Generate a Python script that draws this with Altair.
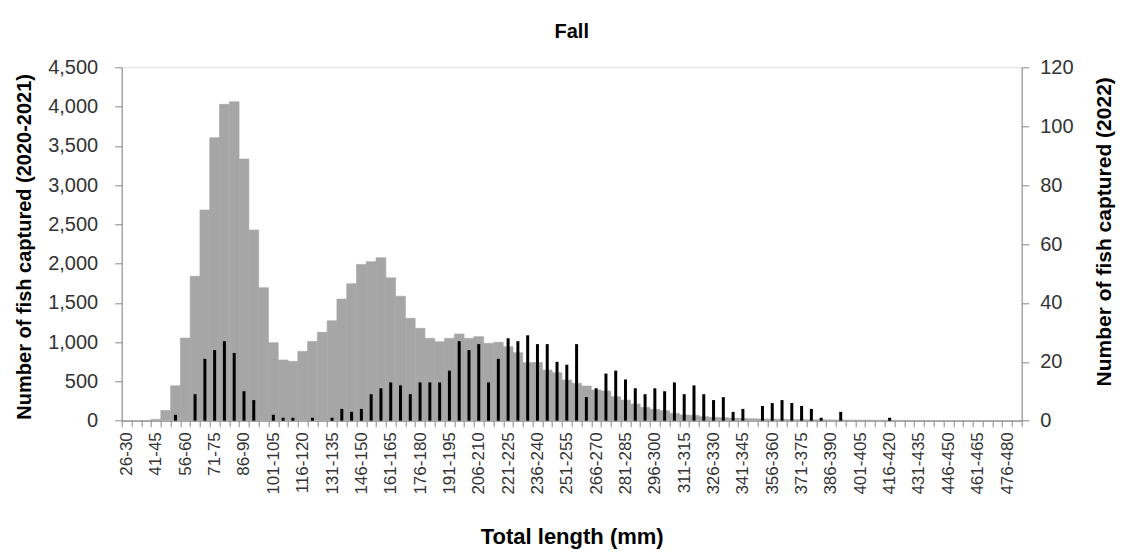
import altair as alt
import pandas as pd

# Length classes (mm), 5-mm bins from 26-30 to 481-485
bin_starts = list(range(26, 486, 5))
bins = [f"{s}-{s + 4}" for s in bin_starts]

# Number of fish captured 2020-2021 (left axis)
catch_2020_2021 = [
    0, 0, 2, 17, 130, 445, 1053, 1838, 2683, 3604,
    4028, 4062, 3332, 2428, 1694, 993, 773, 756, 883, 1010,
    1125, 1273, 1549, 1745, 1990, 2025, 2076, 1819, 1585, 1304,
    1176, 1049, 1006, 1049, 1104, 1049, 1070, 985, 998, 942,
    866, 739, 741, 645, 611, 518, 476, 442, 391, 378,
    306, 263, 213, 170, 145, 128, 94, 73, 68, 51,
    43, 38, 32, 28, 25, 22, 20, 18, 16, 14,
    12, 11, 10, 9, 8, 7, 6, 5, 5, 4,
    4, 3, 2, 2, 1, 1, 0, 0, 0, 0,
    0, 0,
]

# Number of fish captured 2022 (right axis)
catch_2022 = [
    0, 0, 0, 0, 0, 2, 0, 9, 21, 24,
    27, 23, 10, 7, 0, 2, 1, 1, 0, 1,
    0, 1, 4, 3, 4, 9, 11, 13, 12, 9,
    13, 13, 13, 17, 27, 24, 26, 13, 21, 28,
    27, 29, 26, 26, 20, 19, 26, 8, 11, 16,
    17, 14, 11, 9, 11, 10, 13, 9, 12, 9,
    7, 8, 3, 4, 0, 5, 6, 7, 6, 5,
    4, 1, 0, 3, 0, 0, 0, 0, 1, 0,
    0, 0, 0, 0, 0, 0, 0, 0, 0, 0,
    0, 0,
]

left_ticks = list(range(0, 4501, 500))
right_ticks = list(range(0, 121, 20))

df = pd.DataFrame({"bin": bins, "y1": catch_2020_2021, "y2": catch_2022})

FONT = "Liberation Sans, Arial, sans-serif"
PLOT_H = 353.4

x_enc = alt.X(
    "bin:N",
    sort=bins,
    scale=alt.Scale(paddingInner=0, paddingOuter=0),
    axis=alt.Axis(
        title="Total length (mm)",
        labelAngle=270,
        tickBand="extent",
        labelExpr="(parseInt(split(datum.value, '-')[0]) - 26) % 15 == 0 ? datum.value : ''",
        labelOverlap=False,
        labelFont=FONT,
        labelFontSize=17,
        labelColor="#333333",
        labelPadding=5,
        tickSize=6,
        tickColor="#888888",
        domainColor="#888888",
        titleFont=FONT,
        titleFontSize=22,
        titleFontWeight="bold",
        titleColor="#000000",
        titleX=450,
        titleY=116,
        titleBaseline="middle",
        titleAlign="center",
    ),
)

gray = alt.Chart(df).mark_bar(color="#A6A6A6", stroke="#A6A6A6", strokeWidth=0.6).encode(
    x=x_enc,
    y=alt.Y(
        "y1:Q",
        scale=alt.Scale(domain=[0, 4500], nice=False),
        axis=alt.Axis(
            title="Number of fish captured (2020-2021)",
            values=left_ticks,
            format=",.0f",
            grid=False,
            tickSize=7,
            tickColor="#888888",
            domainColor="#888888",
            labelFont=FONT,
            labelFontSize=20,
            labelColor="#333333",
            labelPadding=17,
            titleFont=FONT,
            titleFontSize=20,
            titleFontWeight="bold",
            titleColor="#000000",
            titleAngle=270,
            titleX=-97,
            titleY=179,
            titleAlign="center",
            titleBaseline="middle",
        ),
    ),
)

black = alt.Chart(df).mark_bar(color="#000000", size=3).encode(
    x=x_enc,
    y=alt.Y(
        "y2:Q",
        scale=alt.Scale(domain=[0, 120], nice=False),
        axis=alt.Axis(
            orient="right",
            title="Number of fish captured (2022)",
            values=right_ticks,
            grid=False,
            tickSize=7,
            tickColor="#888888",
            domainColor="#888888",
            labelFont=FONT,
            labelFontSize=20,
            labelColor="#333333",
            labelPadding=11,
            titleFont=FONT,
            titleFontSize=21,
            titleFontWeight="bold",
            titleColor="#000000",
            titleAngle=270,
            titleX=83,
            titleY=164,
            titleAlign="center",
            titleBaseline="middle",
        ),
    ),
)

chart = (
    alt.layer(gray, black)
    .resolve_scale(y="independent")
    .properties(
        width=900,
        height=PLOT_H,
        title=alt.TitleParams(
            "Fall",
            font=FONT,
            fontSize=20,
            fontWeight="bold",
            color="#000000",
            anchor="middle",
            frame="group",
            offset=15,
        ),
        autosize=alt.AutoSizeParams(type="none"),
        padding={"left": 121.7, "top": 67.3, "right": 103.3, "bottom": 137.3},
    )
    .configure_view(strokeWidth=0)
    .configure(background="white")
)

chart.save("out.html", embed_options={"renderer": "svg", "actions": False})
